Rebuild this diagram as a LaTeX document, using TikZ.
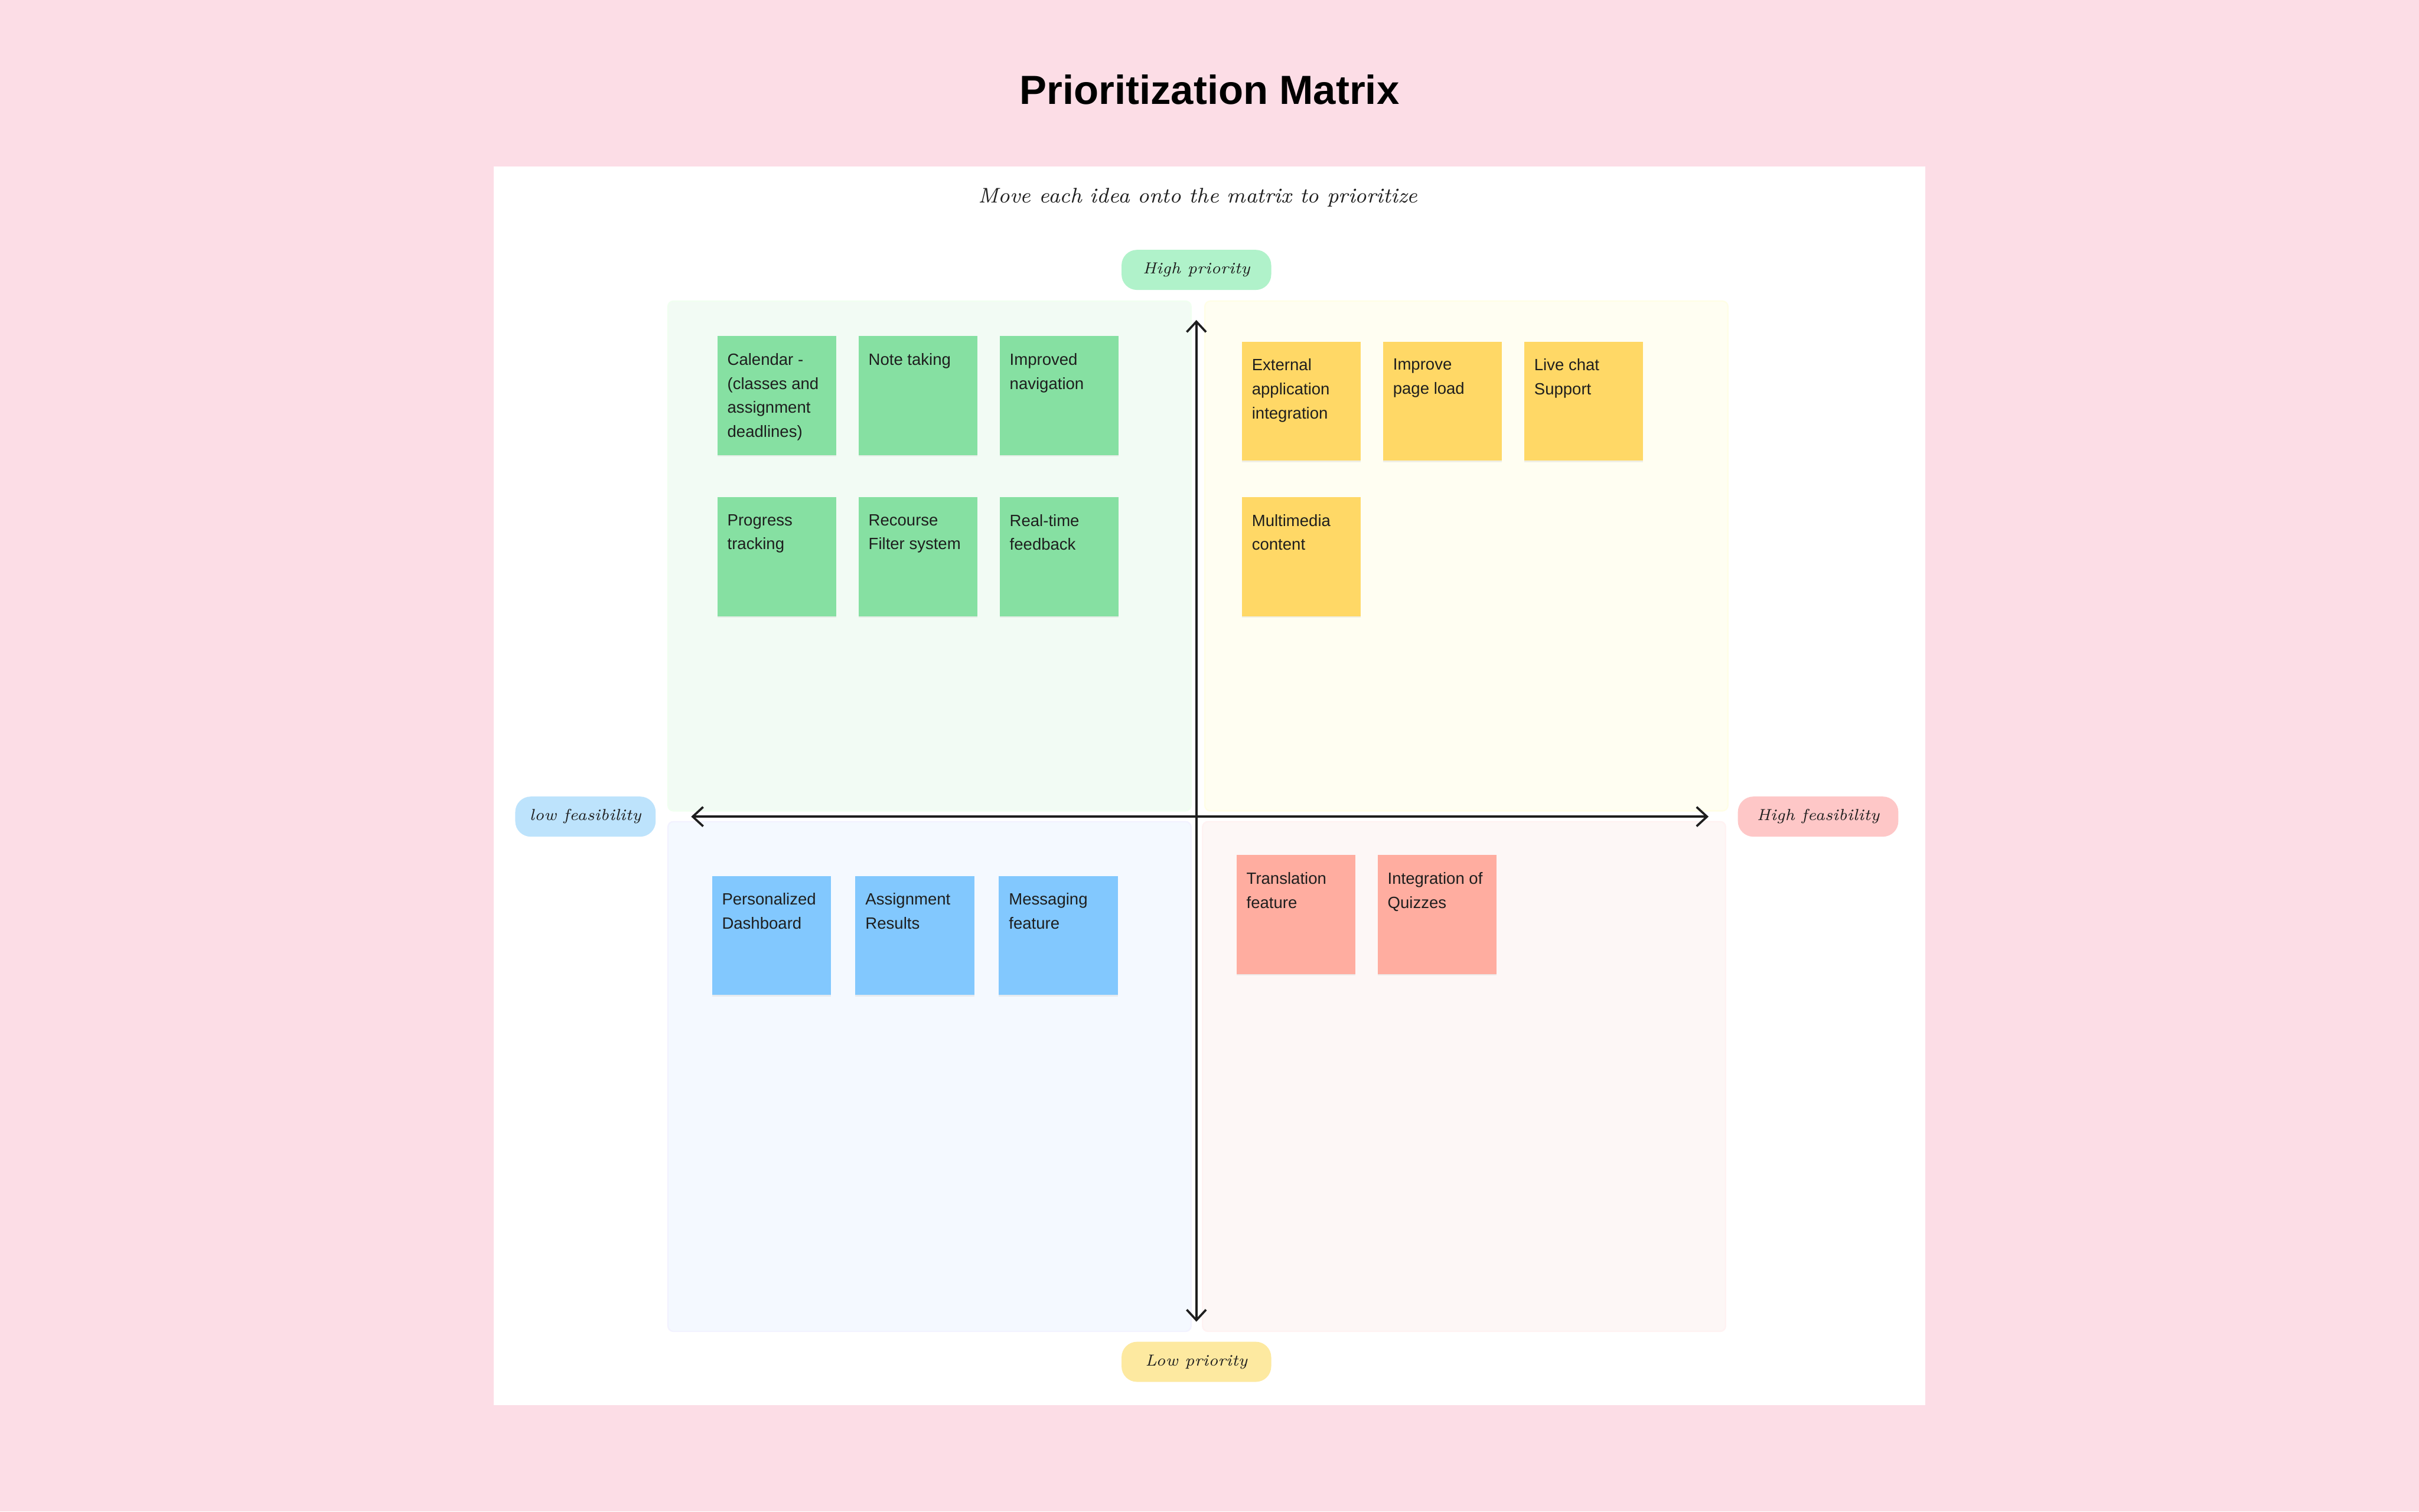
\documentclass[tikz,border=0pt]{standalone}
\usepackage{fontspec}
\usepackage{tikz}
\usetikzlibrary{arrows.meta, shadows}

\newfontfamily\uifont{Liberation Sans}

\definecolor{pagebg}{HTML}{FCDDE6}
\definecolor{ink}{HTML}{1E1E1E}
\definecolor{quadgreen}{HTML}{F2FBF4}
\definecolor{quadyellow}{HTML}{FFFEF2}
\definecolor{quadblue}{HTML}{F4F9FF}
\definecolor{quadred}{HTML}{FDF7F6}
\definecolor{notegreen}{HTML}{86E0A2}
\definecolor{noteyellow}{HTML}{FFD866}
\definecolor{noteblue}{HTML}{82C8FE}
\definecolor{notered}{HTML}{FFADA0}
\definecolor{pillgreen}{HTML}{B0F2CA}
\definecolor{pillyellow}{HTML}{FDE9A0}
\definecolor{pillblue}{HTML}{BDE3FC}
\definecolor{pillred}{HTML}{FEC7C7}

\newcommand{\notetxt}[1]{\parbox[t][1.10cm][t]{1.28cm}{\raggedright #1}}

\begin{document}
\begin{tikzpicture}[
  quad/.style={rectangle, rounded corners=2pt, line width=0.5pt,
               minimum width=6.78cm, minimum height=6.61cm, inner sep=0pt},
  pill/.style={rectangle, rounded corners=0.2cm, minimum height=0.52cm, inner sep=0pt,
               font=\fontsize{5.9}{7}\selectfont\itshape, text=ink},
  sticky/.style={rectangle, inner xsep=0.13cm, inner ysep=0.22cm, text=ink,
                 font=\uifont\fontsize{6}{8.9}\selectfont,
                 drop shadow={shadow xshift=0pt, shadow yshift=-0.6pt, opacity=0.12}},
  axis/.style={{Straight Barb[length=1.35mm,width=2.5mm]}-{Straight Barb[length=1.35mm,width=2.5mm]},
               line width=0.8pt, ink}
]

% Page and board
\fill[pagebg] (-15.51,-9.01) rectangle (15.85,10.59);
\fill[white] (-9.11,-7.63) rectangle (9.45,8.43);
\useasboundingbox (-15.51,-9.01) rectangle (15.85,10.59);

\node[font=\uifont\bfseries\fontsize{15}{18}\selectfont, text=black] (title) at (0.17,9.43) {Prioritization Matrix};
\node[font=\fontsize{7.8}{10}\selectfont\itshape, text=ink] (hint) at (0.02,8.03) {Move each idea onto the matrix to prioritize};

% Quadrants
\node[quad, fill=quadgreen, draw=green!6] (tl) at (-3.46,3.38) {};
\node[quad, fill=quadyellow, draw=yellow!10] (tr) at (3.50,3.38) {};
\node[quad, fill=quadblue, draw=blue!5] (bl) at (-3.46,-3.37) {};
\node[quad, fill=quadred, draw=red!5] (br) at (3.47,-3.37) {};

% Axes
\coordinate (ytop) at (0,6.44);
\coordinate (ybot) at (0,-6.55);
\coordinate (xleft) at (-6.55,0);
\coordinate (xright) at (6.64,0);
\draw[axis] (ybot) -- (ytop);
\draw[axis] (xleft) -- (xright);

% Axis labels
\node[pill, fill=pillgreen, minimum width=1.94cm] (hp) at (0,7.09) {High priority};
\node[pill, fill=pillyellow, minimum width=1.94cm] (lp) at (0,-7.07) {Low priority};
\node[pill, fill=pillblue, minimum width=1.82cm] (lf) at (-7.92,0) {low feasibility};
\node[pill, fill=pillred, minimum width=2.08cm] (hf) at (8.06,0) {High feasibility};

% High priority, low feasibility
\node[sticky, fill=notegreen] (cal) at (-5.44,5.46) {\notetxt{Calendar -\\(classes and\\assignment\\deadlines)}};
\node[sticky, fill=notegreen] (notes) at (-3.61,5.46) {\notetxt{Note taking}};
\node[sticky, fill=notegreen] (nav) at (-1.78,5.46) {\notetxt{Improved\\navigation}};
\node[sticky, fill=notegreen] (prog) at (-5.44,3.37) {\notetxt{Progress\\tracking}};
\node[sticky, fill=notegreen] (filt) at (-3.61,3.37) {\notetxt{Recourse\\Filter system}};
\node[sticky, fill=notegreen] (feed) at (-1.78,3.37) {\notetxt{Real-time\\feedback}};

% High priority, high feasibility
\node[sticky, fill=noteyellow] (ext) at (1.36,5.39) {\notetxt{External\\application\\integration}};
\node[sticky, fill=noteyellow] (load) at (3.19,5.39) {\notetxt{Improve\\page load}};
\node[sticky, fill=noteyellow] (chat) at (5.02,5.39) {\notetxt{Live chat\\Support}};
\node[sticky, fill=noteyellow] (media) at (1.36,3.37) {\notetxt{Multimedia\\content}};

% Low priority, low feasibility
\node[sticky, fill=noteblue] (dash) at (-5.51,-1.54) {\notetxt{Personalized\\Dashboard}};
\node[sticky, fill=noteblue] (res) at (-3.65,-1.54) {\notetxt{Assignment\\Results}};
\node[sticky, fill=noteblue] (msg) at (-1.79,-1.54) {\notetxt{Messaging\\feature}};

% Low priority, high feasibility
\node[sticky, fill=notered] (trans) at (1.29,-1.27) {\notetxt{Translation\\feature}};
\node[sticky, fill=notered] (quiz) at (3.12,-1.27) {\notetxt{Integration of\\Quizzes}};

\end{tikzpicture}
\end{document}
